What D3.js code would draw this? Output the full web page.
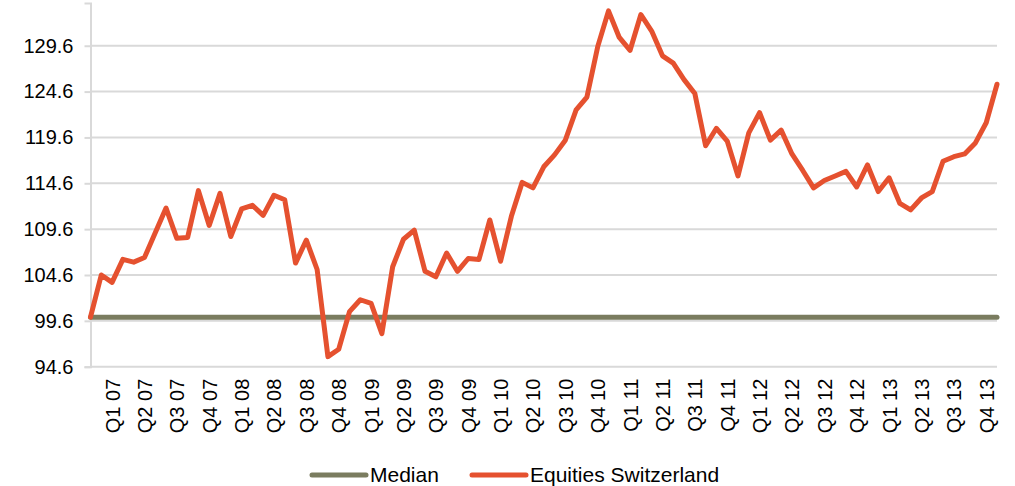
<!DOCTYPE html>
<html>
<head>
<meta charset="utf-8">
<script src="https://cdn.jsdelivr.net/npm/d3@7"></script>
<style>
  html, body { margin: 0; padding: 0; background: #fff; }
  svg { display: block; font-family: "Liberation Sans", Arial, sans-serif; }
</style>
</head>
<body>
<svg id="chart" width="1015" height="486"></svg>
<script>
// Quarter tick labels
const quarterLabels = [
  "Q1 07","Q2 07","Q3 07","Q4 07",
  "Q1 08","Q2 08","Q3 08","Q4 08",
  "Q1 09","Q2 09","Q3 09","Q4 09",
  "Q1 10","Q2 10","Q3 10","Q4 10",
  "Q1 11","Q2 11","Q3 11","Q4 11",
  "Q1 12","Q2 12","Q3 12","Q4 12",
  "Q1 13","Q2 13","Q3 13","Q4 13"
];
// Y-axis tick values
const yTicks = [94.6, 99.6, 104.6, 109.6, 114.6, 119.6, 124.6, 129.6];
// Monthly index values (base point + 84 months)
const equitiesSwitzerland = [
  100.0, 104.6, 103.8, 106.3, 106.0, 106.5, 109.2, 111.9, 108.6, 108.7,
  113.8, 110.0, 113.5, 108.8, 111.8, 112.2, 111.1, 113.3, 112.8, 105.9,
  108.4, 105.2, 95.7, 96.5, 100.6, 101.9, 101.5, 98.2, 105.5, 108.5,
  109.5, 105.0, 104.4, 107.0, 105.0, 106.4, 106.3, 110.6, 106.1, 111.0,
  114.7, 114.1, 116.4, 117.7, 119.3, 122.6, 124.0, 129.5, 133.4, 130.5,
  129.1, 133.0, 131.2, 128.5, 127.7, 125.9, 124.4, 118.7, 120.6, 119.2,
  115.4, 120.1, 122.3, 119.3, 120.4, 117.8, 116.0, 114.1, 114.9, 115.4,
  115.9, 114.2, 116.6, 113.7, 115.2, 112.4, 111.7, 113.0, 113.7, 117.0,
  117.5, 117.8, 119.0, 121.2, 125.4
];
const medianValue = 100.0;
const seriesNames = ["Median", "Equities Switzerland"];
const seriesColors = ["#7a7c5f", "#e5512f"];

const svg = d3.select("#chart");
const plotLeft = 90.5, plotRight = 997, plotTop = 3, plotBottom = 366.7;

const x = d3.scaleLinear().domain([0, equitiesSwitzerland.length - 1]).range([plotLeft, plotRight]);
const y = d3.scaleLinear().domain([94.6, 134.26]).range([plotBottom, plotTop]);

// gridlines
svg.append("g").selectAll("line").data(yTicks).join("line")
  .attr("x1", plotLeft).attr("x2", plotRight)
  .attr("y1", d => y(d)).attr("y2", d => y(d))
  .attr("stroke", "#d9d9d9").attr("stroke-width", 2);

// y axis
const yAxis = d3.axisLeft(y).tickValues(yTicks).tickFormat(d3.format(".1f")).tickSize(6).tickPadding(11);
const gy = svg.append("g").attr("transform", `translate(${plotLeft},0)`).call(yAxis);
gy.select(".domain").attr("stroke", "#d9d9d9").attr("stroke-width", 2);
gy.selectAll(".tick line").attr("stroke", "#d9d9d9").attr("stroke-width", 2);
gy.selectAll("text").attr("font-size", 20).attr("fill", "#000")
  .attr("font-family", "'Liberation Sans', Arial, sans-serif");

// x axis labels (quarters, centred on middle month)
const xAxis = d3.axisBottom(x).tickValues(quarterLabels.map((d, i) => 3 * i + 2))
  .tickFormat((d, i) => quarterLabels[i]).tickSize(0);
const gx = svg.append("g").attr("transform", `translate(0,${plotBottom})`).call(xAxis);
gx.select(".domain").remove();
gx.selectAll("text")
  .attr("font-size", 20).attr("fill", "#000")
  .attr("font-family", "'Liberation Sans', Arial, sans-serif")
  .attr("transform", "rotate(-90)")
  .attr("text-anchor", "end")
  .attr("x", -12).attr("y", 0).attr("dy", "0.35em");

// median line
svg.append("line")
  .attr("x1", x(0)).attr("x2", x(equitiesSwitzerland.length - 1))
  .attr("y1", y(medianValue)).attr("y2", y(medianValue))
  .attr("stroke", seriesColors[0]).attr("stroke-width", 5).attr("stroke-linecap", "round");

// equities line
const line = d3.line().x((d, i) => x(i)).y(d => y(d));
svg.append("path").datum(equitiesSwitzerland)
  .attr("d", line).attr("fill", "none")
  .attr("stroke", seriesColors[1]).attr("stroke-width", 5)
  .attr("stroke-linejoin", "round").attr("stroke-linecap", "round");

// legend
const legendItems = [
  { name: seriesNames[0], color: seriesColors[0], x1: 312, x2: 366, tx: 370 },
  { name: seriesNames[1], color: seriesColors[1], x1: 472, x2: 526, tx: 530 }
];
const lg = svg.append("g");
legendItems.forEach(it => {
  lg.append("line").attr("x1", it.x1).attr("x2", it.x2).attr("y1", 475).attr("y2", 475)
    .attr("stroke", it.color).attr("stroke-width", 5).attr("stroke-linecap", "round");
  lg.append("text").attr("x", it.tx).attr("y", 475).attr("dy", "0.35em")
    .attr("font-size", 21).attr("fill", "#000").text(it.name);
});
</script>
</body>
</html>
